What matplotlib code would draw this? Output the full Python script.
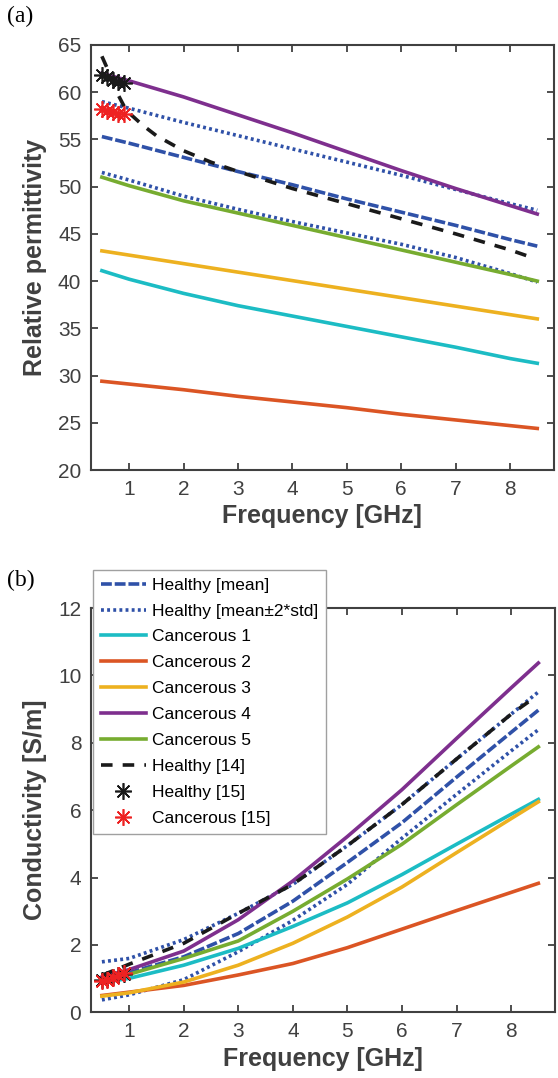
import matplotlib
matplotlib.use("Agg")
import matplotlib.pyplot as plt

# frecuencias comunes [GHz]
freq = [0.5, 1, 2, 3, 4, 5, 6, 7, 8, 8.5]

# (a) permitividad relativa
perm_mean = [55.3, 54.6, 53.1, 51.6, 50.2, 48.7, 47.3, 45.9, 44.4, 43.7]
perm_up = [59.0, 58.3, 56.8, 55.4, 54.0, 52.6, 51.2, 49.7, 48.2, 47.5]
perm_lo = [51.5, 50.7, 49.0, 47.6, 46.3, 45.1, 43.9, 42.5, 40.8, 39.9]
perm_c1 = [41.1, 40.2, 38.7, 37.4, 36.3, 35.2, 34.1, 33.0, 31.8, 31.3]
perm_c2 = [29.4, 29.1, 28.5, 27.8, 27.2, 26.6, 25.9, 25.3, 24.7, 24.4]
perm_c3 = [43.2, 42.75, 41.85, 40.95, 40.05, 39.15, 38.25, 37.35, 36.45, 36.0]
perm_c4 = [62.0, 61.2, 59.5, 57.6, 55.7, 53.7, 51.7, 49.8, 48.0, 47.1]
perm_c5 = [51.0, 50.1, 48.5, 47.2, 45.9, 44.6, 43.3, 42.0, 40.7, 40.0]
freq14_a = [0.5, 0.6, 0.7, 0.8, 0.9, 1.0, 1.25, 1.5, 2, 2.5, 3, 4, 5, 6, 7, 8, 8.3]
perm_h14 = [63.8, 62.5, 61.0, 59.7, 58.6, 57.8, 56.5, 55.4, 53.8, 52.6, 51.6,
            49.8, 48.2, 46.6, 45.0, 43.3, 42.7]

freq15 = [0.5, 0.6, 0.7, 0.8, 0.9]
perm_h15 = [61.8, 61.6, 61.3, 61.1, 61.0]
perm_c15 = [58.2, 58.0, 57.9, 57.7, 57.7]

# (b) conductividad [S/m]
cond_mean = [1.02, 1.18, 1.65, 2.34, 3.30, 4.45, 5.63, 6.98, 8.31, 8.97]
cond_up = [1.50, 1.60, 2.16, 2.94, 3.80, 4.95, 6.17, 7.52, 8.85, 9.51]
cond_lo = [0.37, 0.52, 0.97, 1.80, 2.73, 3.80, 5.17, 6.47, 7.76, 8.39]
cond_c1 = [0.88, 1.01, 1.40, 1.90, 2.55, 3.25, 4.09, 4.99, 5.88, 6.32]
cond_c2 = [0.50, 0.60, 0.80, 1.11, 1.45, 1.92, 2.47, 3.02, 3.56, 3.83]
cond_c3 = [0.48, 0.58, 0.90, 1.40, 2.05, 2.83, 3.72, 4.74, 5.75, 6.25]
cond_c4 = [1.05, 1.27, 1.82, 2.75, 3.90, 5.22, 6.61, 8.13, 9.63, 10.37]
cond_c5 = [0.98, 1.13, 1.60, 2.12, 3.00, 3.96, 4.99, 6.16, 7.31, 7.88]
freq14_b = [0.5, 1, 2, 3, 4, 5, 6, 7, 8, 8.4]
cond_h14 = [1.10, 1.43, 2.05, 2.94, 3.80, 4.95, 6.17, 7.52, 8.85, 9.31]
cond_h15 = [0.97, 1.00, 1.05, 1.10, 1.15]
cond_c15 = [0.92, 0.97, 1.03, 1.10, 1.18]

etiquetas = ["Healthy [mean]", "Healthy [mean\u00b12*std]", "Cancerous 1",
             "Cancerous 2", "Cancerous 3", "Cancerous 4", "Cancerous 5",
             "Healthy [14]", "Healthy [15]", "Cancerous [15]"]

azul = "#2F51A8"
colores = ["#1CBCC4", "#DB5524", "#EDB120", "#7E2F8E", "#77AC30"]
gris = "#404040"
lw = 2.6

plt.rcParams["font.family"] = ["Liberation Sans", "DejaVu Sans"]


def dibujar(ax, mean, up, lo, cancer, f14, h14, h15, c15):
    lineas = []
    lineas += ax.plot(freq, mean, color=azul, lw=lw, dashes=(3.0, 0.8))
    lineas += ax.plot(freq, up, color=azul, lw=lw, dashes=(0.8, 0.9))
    ax.plot(freq, lo, color=azul, lw=lw, dashes=(0.8, 0.9))
    for serie, c in zip(cancer, colores):
        lineas += ax.plot(freq, serie, color=c, lw=lw)
    lineas += ax.plot(f14, h14, color="#1A1A1A", lw=lw, dashes=(3.2, 2.8))
    lineas += ax.plot(freq15, h15, ls="none", marker=(8, 2, 0), ms=12,
                      mew=1.2, color="#1A1A1A")
    lineas += ax.plot(freq15, c15, ls="none", marker=(8, 2, 0), ms=12,
                      mew=1.2, color="#EE2222")
    ax.set_xlim(0.3, 8.8)
    ax.set_xticks(range(1, 9))
    ax.tick_params(direction="in", length=5, width=1.3, top=True, right=True,
                   labelsize=15, colors=gris, pad=7)
    for s in ax.spines.values():
        s.set_color(gris)
        s.set_linewidth(1.5)
    ax.set_xlabel("Frequency [GHz]", fontsize=18, fontweight="bold",
                  color=gris, labelpad=4)
    return lineas


fig = plt.figure(figsize=(5.58, 10.78), dpi=100)

ax1 = fig.add_axes([0.1631, 0.564, 0.8290, 0.3943])
dibujar(ax1, perm_mean, perm_up, perm_lo,
        [perm_c1, perm_c2, perm_c3, perm_c4, perm_c5],
        freq14_a, perm_h14, perm_h15, perm_c15)
ax1.set_ylim(20, 65)
ax1.set_yticks(range(20, 66, 5))
ax1.set_ylabel("Relative permittivity", fontsize=18, fontweight="bold",
               color=gris, labelpad=8)

ax2 = fig.add_axes([0.1631, 0.0609, 0.8310, 0.375])
lineas = dibujar(ax2, cond_mean, cond_up, cond_lo,
                 [cond_c1, cond_c2, cond_c3, cond_c4, cond_c5],
                 freq14_b, cond_h14, cond_h15, cond_c15)
ax2.set_ylim(0, 12)
ax2.set_yticks(range(0, 13, 2))
ax2.set_ylabel("Conductivity [S/m]", fontsize=18, fontweight="bold",
               color=gris, labelpad=8)

leg = ax2.legend(lineas, etiquetas, loc="upper left",
                 bbox_to_anchor=(0.004, 1.095), borderaxespad=0,
                 fontsize=12.5, handlelength=2.6, handletextpad=0.35,
                 labelspacing=0.62, borderpad=0.45, fancybox=False,
                 framealpha=1, edgecolor="#A0A0A0")
leg.get_frame().set_linewidth(1.0)

fig.text(0.012, 0.985, "(a)", family="Liberation Serif", fontsize=17,
         va="center", ha="left")
fig.text(0.012, 0.462, "(b)", family="Liberation Serif", fontsize=17,
         va="center", ha="left")

fig.savefig("out.png", dpi=100)
